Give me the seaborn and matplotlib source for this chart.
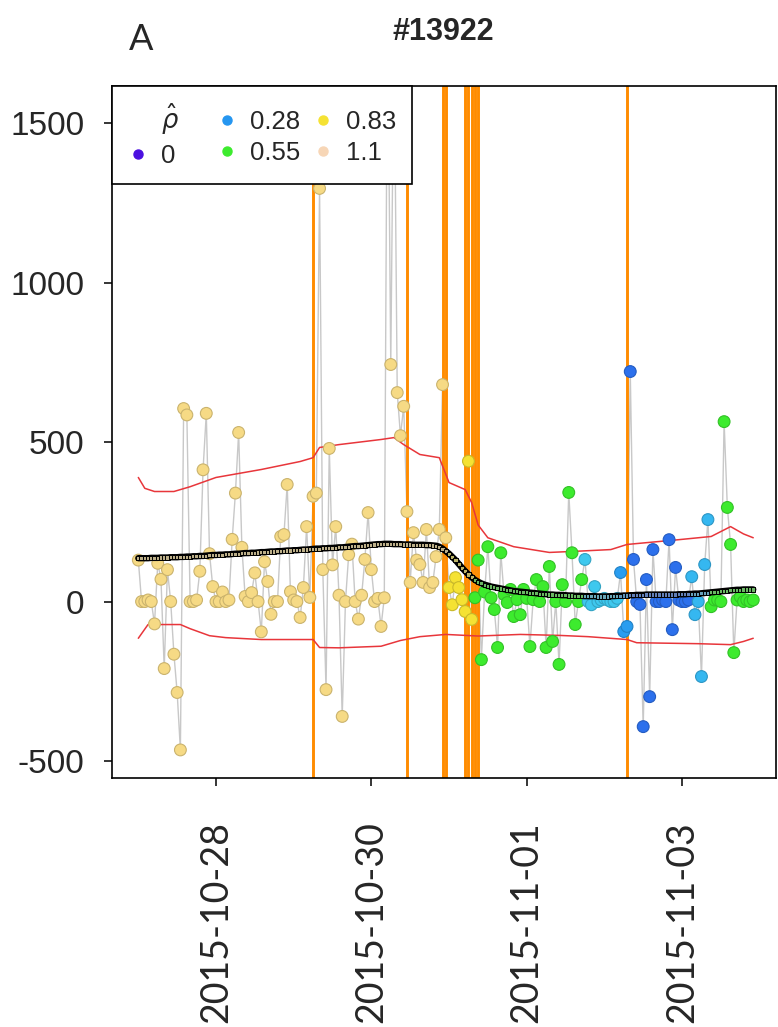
import numpy as np
import pandas as pd
import matplotlib
matplotlib.use("Agg")
import matplotlib.pyplot as plt
import matplotlib.dates as mdates
from matplotlib.colors import LinearSegmentedColormap, to_rgb
from matplotlib.lines import Line2D
import seaborn as sns

# ---------------------------------------------------------------- data
series_id = "#13922"
panel_tag = "A"
start_time = "2015-10-27 00:00"

# hourly observations
raw_values = [
    130, 0, 0, 5, 0, -70, 120, 70, -210, 100, 0, -165, -285, -465, 605, 585, 0, 0, 5, 95, 413, 590, 150, 47,
    0, 0, 30, 0, 5, 195, 340, 530, 170, 16, 0, 28, 90, 0, -95, 125, 63, -40, 0, 0, 204, 210, 367, 31,
    5, 0, -50, 44, 235, 13, 330, 340, 1295, 100, -276, 480, 115, 235, 20, -360, 0, 147, 180, 0, -55, 20, 132, 279,
    100, 0, 10, -78, 12, 1900, 743, 1800, 655, 520, 612, 282, 60, 216, 130, 116, 60, 226, 44, 60, 141, 226, 680, 200,
    44, -10, 75, 44, 6, -31, 440, -56, 12, 130, -182, 30, 172, 12, -25, -144, 153, 22, -3, 38, -47, 6, -41, 38,
    10, -141, 6, 69, 0, 47, -144, 110, -125, 0, -197, 53, 0, 342, 153, -72, 0, 69, 132, 0, -10, 47, 0, 5,
    10, 5, 0, 0, 10, 91, -94, -78, 721, 132, 0, -9, -392, 69, -298, 163, 0, 0, 5, 0, 194, -88, 107, 5,
    0, 0, 5, 78, -41, 0, -235, 116, 257, -16, 5, 5, 0, 564, 295, 179, -160, 5, 15, 0, 5, 0, 5,
]

# smoothed level
trend_values = [
    136, 136, 136, 136, 137, 137, 137, 138, 138, 138, 139, 139, 139, 140, 140, 141, 141, 142, 142, 143, 143, 144, 145, 146,
    146, 147, 147, 148, 148, 149, 150, 150, 151, 152, 152, 153, 153, 154, 155, 155, 156, 157, 157, 158, 158, 159, 160, 160,
    161, 161, 162, 163, 163, 164, 165, 166, 166, 167, 167, 168, 168, 169, 170, 170, 171, 172, 173, 174, 174, 175, 176, 177,
    178, 179, 180, 180, 181, 181, 181, 180, 180, 180, 179, 179, 179, 178, 178, 178, 178, 177, 177, 176, 175, 172, 166, 158,
    150, 140, 130, 118, 106, 95, 85, 76, 68, 62, 57, 53, 50, 47, 45, 43, 41, 39, 37, 35, 33, 32, 31, 30,
    29, 28, 27, 26, 25, 24, 23, 22, 22, 21, 21, 20, 20, 19, 19, 18, 18, 18, 17, 17, 17, 17, 16, 16,
    16, 16, 17, 17, 18, 18, 19, 19, 20, 20, 21, 21, 21, 22, 22, 22, 22, 22, 22, 22, 22, 22, 22, 23,
    23, 23, 24, 24, 25, 25, 26, 27, 28, 29, 30, 31, 32, 33, 34, 35, 36, 37, 37, 38, 38, 38, 38,
]

# estimated rho per segment (segment start hour -> level)
rho_seg_start = [0, 96, 104, 138, 149, 152, 171, 177]
rho_seg_level = [1.0, 0.83, 0.55, 0.40, 0.30, 0.18, 0.36, 0.55]

# control limits (vertices at hour offsets)
upper_hours = [0, 2, 5, 11, 16, 24, 38, 50, 54, 56, 62, 75, 79, 82, 87, 93, 96, 101, 103, 105, 108,
               116, 127, 136, 146, 151, 167, 177, 183, 187, 190]
upper_vals = [389, 355, 345, 345, 360, 389, 414, 439, 451, 483, 492, 508, 514, 492, 461, 451, 373, 351,
              310, 240, 200, 172, 154, 158, 163, 179, 194, 204, 235, 212, 200]
lower_hours = [0, 3, 13, 16, 22, 27, 38, 54, 56, 62, 75, 81, 87, 95, 105, 118, 130, 139, 151, 154,
               173, 183, 187, 190]
lower_vals = [-115, -72, -72, -85, -107, -113, -119, -119, -144, -145, -140, -122, -110, -103, -108,
              -103, -106, -110, -119, -129, -132, -135, -125, -115]

# detected change points (hour offsets)
change_hours = [54, 83, 94, 95, 101, 102, 103, 104, 105, 151]

legend_levels = [0, 0.28, 0.55, 0.83, 1.1]
legend_labels = ["0", "0.28", "0.55", "0.83", "1.1"]
x_tick_dates = ["2015-10-28", "2015-10-30", "2015-11-01", "2015-11-03"]
y_ticks = [-500, 0, 500, 1000, 1500]

# ---------------------------------------------------------------- frames
t0 = pd.Timestamp(start_time)
n = len(raw_values)
times = pd.date_range(t0, periods=n, freq="h")
rho = np.empty(n)
for s, lev in zip(rho_seg_start, rho_seg_level):
    rho[s:] = lev

df = pd.DataFrame({"time": times, "value": raw_values, "trend": trend_values, "rho": rho})
upper_df = pd.DataFrame({"time": t0 + pd.to_timedelta(upper_hours, unit="h"), "v": upper_vals})
lower_df = pd.DataFrame({"time": t0 + pd.to_timedelta(lower_hours, unit="h"), "v": lower_vals})

rho_cmap = LinearSegmentedColormap.from_list(
    "rho",
    [(0.0, "#4B10E0"), (0.14 / 1.1, "#2F62EA"), (0.28 / 1.1, "#2596F0"),
     (0.40 / 1.1, "#3EC8F0"), (0.55 / 1.1, "#3CEB2E"), (0.83 / 1.1, "#F5E232"),
     (1.0, "#F7D6B6")],
)
point_faces = [rho_cmap(r / 1.1) for r in rho]
point_edges = [tuple(0.82 * np.array(to_rgb(c))) for c in point_faces]
# trend markers: muted version of the point colour
trend_faces = [tuple(0.45 * np.array(to_rgb(c)) + 0.55 * np.array([0.55, 0.55, 0.55]))
               for c in point_faces]

# ---------------------------------------------------------------- style
sns.set_theme(style="ticks")
plt.rcParams["font.family"] = ["Liberation Sans", "DejaVu Sans"]

fig = plt.figure(figsize=(7.78, 10.27), dpi=100)
ax = fig.add_axes([112 / 778, 1 - 778 / 1027, (776 - 112) / 778, (778 - 86) / 1027])

sns.lineplot(data=df, x="time", y="value", color="#C8C8C8", lw=1.0, estimator=None,
             ax=ax, zorder=1)
for h in change_hours:
    ax.axvline(times[h], color="#FF8C00", lw=2.1, zorder=2)
sns.lineplot(data=upper_df, x="time", y="v", color="#E8363B", lw=1.1, estimator=None, ax=ax, zorder=3)
sns.lineplot(data=lower_df, x="time", y="v", color="#E8363B", lw=1.1, estimator=None, ax=ax, zorder=3)
sns.scatterplot(data=df, x="time", y="value", hue="rho", palette=rho_cmap, hue_norm=(0, 1.1),
                s=72, edgecolor=point_edges, linewidth=0.8, legend=False, ax=ax, zorder=4)
sns.lineplot(data=df, x="time", y="trend", color="black", lw=4.6, estimator=None, ax=ax, zorder=5)
ax.scatter(df["time"], df["trend"], s=9, marker="s", c=trend_faces, edgecolors="black",
           linewidths=0.7, zorder=6)

ax.set_xlim(pd.Timestamp("2015-10-26 15:52"), pd.Timestamp("2015-11-04 05:02"))
ax.set_ylim(-553, 1616)
ax.set_xlabel("")
ax.set_ylabel("")

xt = mdates.date2num(pd.to_datetime(x_tick_dates))
ax.set_xticks(xt)
ax.set_xticklabels(x_tick_dates, rotation=90, fontsize=27, family=["Lato", "DejaVu Sans"])
ax.set_yticks(y_ticks)
ax.set_yticklabels([str(v) for v in y_ticks], fontsize=24)
ax.tick_params(axis="both", direction="out", length=6, width=1.1, color="black")
ax.tick_params(axis="x", pad=25)
ax.tick_params(axis="y", pad=14)
for sp in ax.spines.values():
    sp.set_visible(True)
    sp.set_color("black")
    sp.set_linewidth(1.2)

# legend laid out in fixed-width columns (first column padded to the widest label)
col_labels = [legend_labels[0] + "    "] + legend_labels[1:]
handles = [Line2D([], [], ls="none", marker="", label=r"$\hat{\rho}$")]
for lev, lab in zip(legend_levels, col_labels):
    handles.append(Line2D([], [], ls="none", marker="o", ms=6.5, mfc=rho_cmap(lev / 1.1),
                          mec=rho_cmap(lev / 1.1), label=lab))
leg = ax.legend(handles=handles, loc="upper left", ncol=3, frameon=True, fancybox=False,
                borderaxespad=0, handlelength=0.8, handletextpad=0.5, columnspacing=0.5,
                borderpad=0.6, labelspacing=0.3, fontsize=18.5)
leg.get_frame().set_edgecolor("black")
leg.get_frame().set_linewidth(1.2)
leg.get_frame().set_alpha(1)
leg.set_zorder(10)

fig.text(443 / 778, 1 - 32 / 1027, series_id, ha="center", va="center", fontsize=22,
         fontweight="bold")
fig.text(141 / 778, 1 - 40 / 1027, panel_tag, ha="center", va="center", fontsize=26,
         family=["Lato", "DejaVu Sans"])

fig.savefig("out.png", dpi=100)
